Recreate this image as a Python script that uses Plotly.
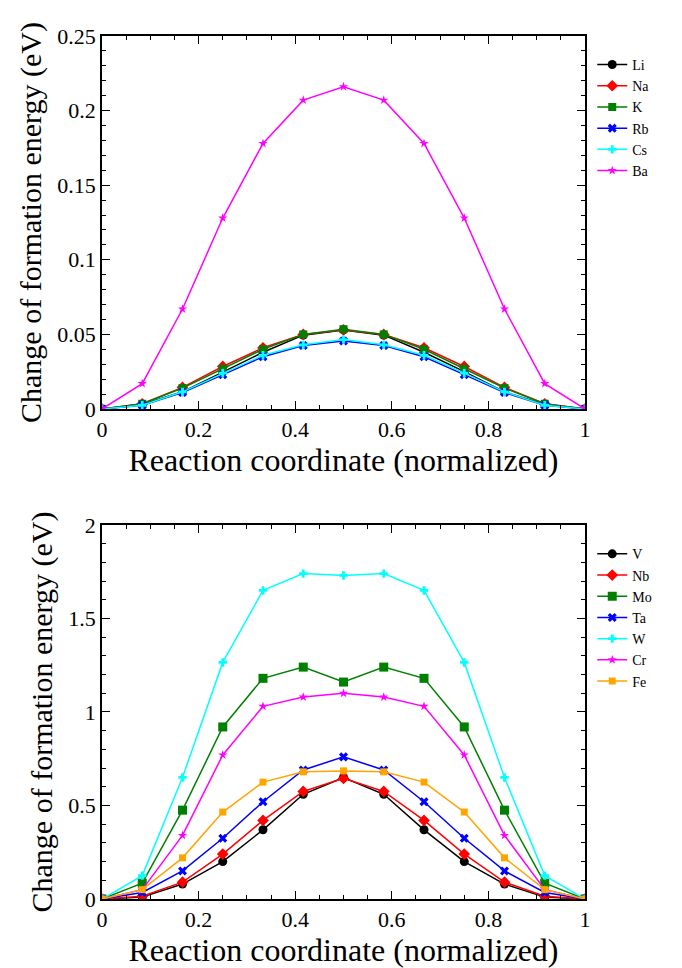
import plotly.graph_objects as go
from plotly.subplots import make_subplots

x = [i / 12 for i in range(13)]

# Top panel (alkali / alkaline earth)
top_names = ["Li", "Na", "K", "Rb", "Cs", "Ba"]
Li = [0, 0.003, 0.0115, 0.025, 0.038, 0.0495, 0.053, 0.0495, 0.038, 0.025, 0.0115, 0.003, 0]
Na = [0, 0.0035, 0.0145, 0.0285, 0.041, 0.050, 0.053, 0.050, 0.041, 0.0285, 0.0145, 0.0035, 0]
K = [0, 0.0035, 0.014, 0.027, 0.040, 0.050, 0.0535, 0.050, 0.040, 0.027, 0.014, 0.0035, 0]
Rb = [0, 0.0025, 0.011, 0.023, 0.035, 0.0425, 0.0455, 0.0425, 0.035, 0.023, 0.011, 0.0025, 0]
Cs = [0, 0.0025, 0.0115, 0.024, 0.036, 0.043, 0.0465, 0.043, 0.036, 0.024, 0.0115, 0.0025, 0]
Ba = [0, 0.017, 0.067, 0.128, 0.178, 0.207, 0.216, 0.207, 0.178, 0.128, 0.067, 0.017, 0]
top_values = [Li, Na, K, Rb, Cs, Ba]

# Bottom panel (transition metals)
bot_names = ["V", "Nb", "Mo", "Ta", "W", "Cr", "Fe"]
V = [0, 0.01, 0.08, 0.20, 0.37, 0.56, 0.65, 0.56, 0.37, 0.20, 0.08, 0.01, 0]
Nb = [0, 0.015, 0.09, 0.24, 0.42, 0.575, 0.645, 0.575, 0.42, 0.24, 0.09, 0.015, 0]
Mo = [0, 0.085, 0.475, 0.92, 1.18, 1.24, 1.16, 1.24, 1.18, 0.92, 0.475, 0.085, 0]
Ta = [0, 0.035, 0.15, 0.325, 0.52, 0.69, 0.76, 0.69, 0.52, 0.325, 0.15, 0.035, 0]
W = [0, 0.125, 0.65, 1.265, 1.65, 1.74, 1.73, 1.74, 1.65, 1.265, 0.65, 0.125, 0]
Cr = [0, 0.05, 0.34, 0.77, 1.03, 1.08, 1.10, 1.08, 1.03, 0.77, 0.34, 0.05, 0]
Fe = [0, 0.05, 0.22, 0.465, 0.625, 0.68, 0.685, 0.68, 0.625, 0.465, 0.22, 0.05, 0]
bot_values = [V, Nb, Mo, Ta, W, Cr, Fe]

top_colors = ["black", "red", "green", "blue", "cyan", "magenta"]
top_symbols = ["circle", "diamond", "square", "x", "cross", "star"]
bot_colors = ["black", "red", "green", "blue", "cyan", "magenta", "orange"]
bot_symbols = ["circle", "diamond", "square", "x", "cross", "star", "square"]
top_sizes = [9, 9, 8, 8, 7, 7]
bot_sizes = [9, 9, 9, 8, 7, 7, 7]

FONT = "Liberation Serif"

fig = make_subplots(rows=2, cols=1)

for name, vals, c, s, sz in zip(top_names, top_values, top_colors, top_symbols, top_sizes):
    fig.add_trace(go.Scatter(x=x, y=vals, name=name, mode="lines+markers",
                             line=dict(color=c, width=1.5),
                             marker=dict(symbol=s, size=sz, color=c),
                             legend="legend"), row=1, col=1)
for name, vals, c, s, sz in zip(bot_names, bot_values, bot_colors, bot_symbols, bot_sizes):
    fig.add_trace(go.Scatter(x=x, y=vals, name=name, mode="lines+markers",
                             line=dict(color=c, width=1.5),
                             marker=dict(symbol=s, size=sz, color=c),
                             legend="legend2"), row=2, col=1)

axis_common = dict(showline=True, linecolor="black", linewidth=1.5, mirror="ticks",
                   ticks="inside", ticklen=8, tickwidth=1, tickcolor="black",
                   showgrid=False, zeroline=False,
                   tickfont=dict(family=FONT, size=22, color="black"))

xaxis_common = dict(axis_common, range=[0, 1], dtick=0.2, tick0=0,
                    minor=dict(ticks="inside", dtick=0.05, ticklen=4, tickcolor="black", showgrid=False),
                    title=dict(text="Reaction coordinate (normalized)",
                               font=dict(family=FONT, size=32, color="black"), standoff=0))

fig.update_layout(
    xaxis=dict(xaxis_common, domain=[0, 1], anchor="y"),
    xaxis2=dict(xaxis_common, domain=[0, 1], anchor="y2"),
    yaxis=dict(axis_common, domain=[0.5678, 1.0], range=[0, 0.25], dtick=0.05, tick0=0,
               minor=dict(ticks="inside", dtick=0.01, ticklen=4, tickcolor="black", showgrid=False),
               title=dict(text="Change of formation energy (eV)",
                          font=dict(family=FONT, size=30, color="black"), standoff=7)),
    yaxis2=dict(axis_common, domain=[0.0, 0.4334], range=[0, 2], dtick=0.5, tick0=0,
                minor=dict(ticks="inside", dtick=0.1, ticklen=4, tickcolor="black", showgrid=False),
                title=dict(text="Change of formation energy (eV)",
                           font=dict(family=FONT, size=30, color="black"), standoff=7)),
    legend=dict(x=1.015, y=0.985, xanchor="left", yanchor="top",
                font=dict(family=FONT, size=14, color="black"),
                bgcolor="rgba(0,0,0,0)", tracegroupgap=0, itemwidth=30),
    legend2=dict(x=1.015, y=0.418, xanchor="left", yanchor="top",
                 font=dict(family=FONT, size=14, color="black"),
                 bgcolor="rgba(0,0,0,0)", tracegroupgap=0, itemwidth=30),
    width=682, height=968,
    margin=dict(l=94, r=105, t=28, b=77),
    plot_bgcolor="white", paper_bgcolor="white",
    font=dict(family=FONT, color="black"),
)

fig.write_html("out.html")
